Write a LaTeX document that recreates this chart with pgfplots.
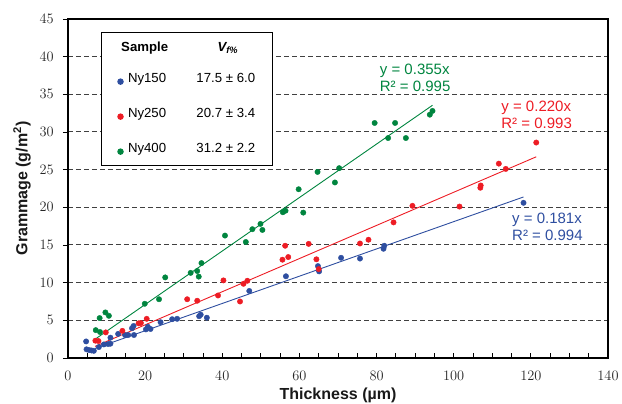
\documentclass[border=0pt]{standalone}
\usepackage{pgfplots}
\pgfplotsset{compat=1.18}
\usepackage{fontspec}
\setmainfont{Liberation Sans}
\definecolor{cblue}{RGB}{46,78,160}
\definecolor{cred}{RGB}{237,28,36}
\definecolor{cgreen}{RGB}{0,133,63}
\begin{document}
\begin{tikzpicture}
\begin{axis}[
  scale only axis, width=540pt, height=339pt,
  xmin=0, xmax=140, ymin=0, ymax=45,
  xtick={0,20,...,140}, ytick={0,5,...,45},
  minor x tick num=3,
  xtick pos=bottom, ytick pos=left,
  xtick align=inside, ytick align=outside,
  major tick length=5pt, minor tick length=4.5pt,
  tick style={black, line width=0.8pt},
  axis line style={line width=1.2pt},
  ymajorgrids,
  grid style={black!75, line width=1pt, dash pattern=on 5pt off 3pt},
  ticklabel style={font=\fontsize{13.5}{16}\selectfont, text=black!85},
  xticklabel style={anchor=center, yshift=-18pt},
  yticklabel style={anchor=east, inner sep=0pt, xshift=-9pt},
  xlabel={Thickness (µm)}, ylabel={Grammage (g/m\textsuperscript{2})},
  label style={font=\fontsize{16}{19}\selectfont\bfseries, text=black!90},
  xlabel style={at={(axis description cs:0.5,-0.1091)}, anchor=center},
  ylabel style={at={(axis description cs:-0.0852,0.5)}, anchor=center},
  legend cell align=left,
  legend style={at={(axis description cs:0.0606,0.9608)}, anchor=north west,
    draw=black, line width=1pt, inner xsep=0pt, inner ysep=2pt, row sep=11.3pt, column sep=0pt,
    nodes={inner sep=0pt, text height=12.4pt, text depth=11.3pt}, font=\fontsize{13.2}{16}\selectfont},
  legend image code/.code={%
    \path[draw=none, fill=none] (-19.3pt,-0.5pt) rectangle (7.5pt,0.5pt);
    \draw[#1] plot[only marks] coordinates {(0pt,0pt)};},
  clip=false,
]
\addlegendimage{empty legend}
\addlegendentry{\raisebox{-4pt}{\makebox[144pt][l]{\hspace*{-6.8pt}\makebox[96.3pt][l]{\textbf{Sample}}\textbf{\textit{V\textsubscript{f\%}}}}}}

\addplot[only marks, mark=*, mark size=2.7pt, draw=cblue, fill=cblue] coordinates {
(4.7,2.2) (4.8,1.15) (5.5,1.05) (6.1,1.0) (6.7,0.95) (8.0,1.45) (9.3,1.8) (10.4,1.85)
(11.0,1.9) (11.0,2.7) (13.0,3.2) (14.8,3.05) (15.6,3.05) (16.6,3.95) (17.0,4.25) (17.1,3.05)
(20.2,3.8) (20.7,4.15) (21.4,3.85) (24.0,4.75) (27.0,5.15) (28.3,5.2) (34.0,5.55) (34.4,5.75)
(36.0,5.35) (47.0,8.9) (56.5,10.85) (64.8,12.2) (65.1,11.5) (70.8,13.3) (75.7,13.2)
(81.8,14.5) (82.0,14.9) (118.1,20.6)
};
\addlegendentry{\makebox[144pt][l]{\makebox[68.5pt][l]{Ny150}17.5 ± 6.0}}

\addplot[only marks, mark=*, mark size=2.7pt, draw=cred, fill=cred] coordinates {
(7.1,2.3) (7.9,2.25) (9.8,3.4) (14.1,3.6) (18.3,4.6) (18.9,4.65) (20.4,5.2) (30.9,7.8)
(33.5,7.6) (38.9,8.3) (40.3,10.3) (44.6,7.5) (45.5,9.85) (46.5,10.25) (55.6,13.05)
(56.3,14.9) (57.1,13.4) (62.4,15.15) (64.4,13.1) (65.0,11.8) (75.7,15.2) (77.9,15.7)
(84.4,18.0) (89.3,20.2) (101.5,20.1) (106.9,22.6) (107.0,22.9) (111.7,25.8) (113.5,25.1)
(121.4,28.6)
};
\addlegendentry{\makebox[144pt][l]{\makebox[68.5pt][l]{Ny250}20.7 ± 3.4}}

\addplot[only marks, mark=*, mark size=2.7pt, draw=cgreen, fill=cgreen] coordinates {
(7.2,3.7) (8.3,3.45) (8.2,5.3) (9.7,6.05) (10.6,5.6) (19.9,7.2) (23.6,7.8) (25.2,10.7)
(31.8,11.3) (33.5,11.55) (33.9,10.8) (34.6,12.6) (40.7,16.25) (46.1,15.4) (47.8,17.1)
(49.9,17.8) (50.4,17.0) (55.7,19.35) (56.4,19.55) (59.8,22.4) (61.0,19.3) (64.7,24.7)
(69.2,23.3) (70.3,25.2) (79.5,31.2) (83.0,29.2) (84.8,31.2) (87.6,29.2) (93.8,32.3)
(94.5,32.8)
};
\addlegendentry{\makebox[144pt][l]{\makebox[68.5pt][l]{Ny400}31.2 ± 2.2}}

% trend lines
\addplot[forget plot, cblue, line width=0.9pt] coordinates {(7,1.267) (118.1,21.376)};
\addplot[forget plot, cred, line width=0.9pt] coordinates {(7,1.54) (121.4,26.708)};
\addplot[forget plot, cgreen, line width=0.9pt] coordinates {(7.3,2.592) (94.5,33.548)};

\node[cgreen, align=left, anchor=center, font=\fontsize{15}{17}\selectfont] at (axis cs:90.0,37.2) {y = 0.355x\\R² = 0.995};
\node[cred, align=left, anchor=center, font=\fontsize{15}{17}\selectfont] at (axis cs:121.5,32.3) {y = 0.220x\\R² = 0.993};
\node[cblue, align=left, anchor=center, font=\fontsize{15}{17}\selectfont] at (axis cs:124.3,17.4) {y = 0.181x\\R² = 0.994};
\end{axis}
\pgfresetboundingbox
\useasboundingbox (-68pt,-46pt) rectangle (554pt,358pt);
\end{tikzpicture}
\end{document}
